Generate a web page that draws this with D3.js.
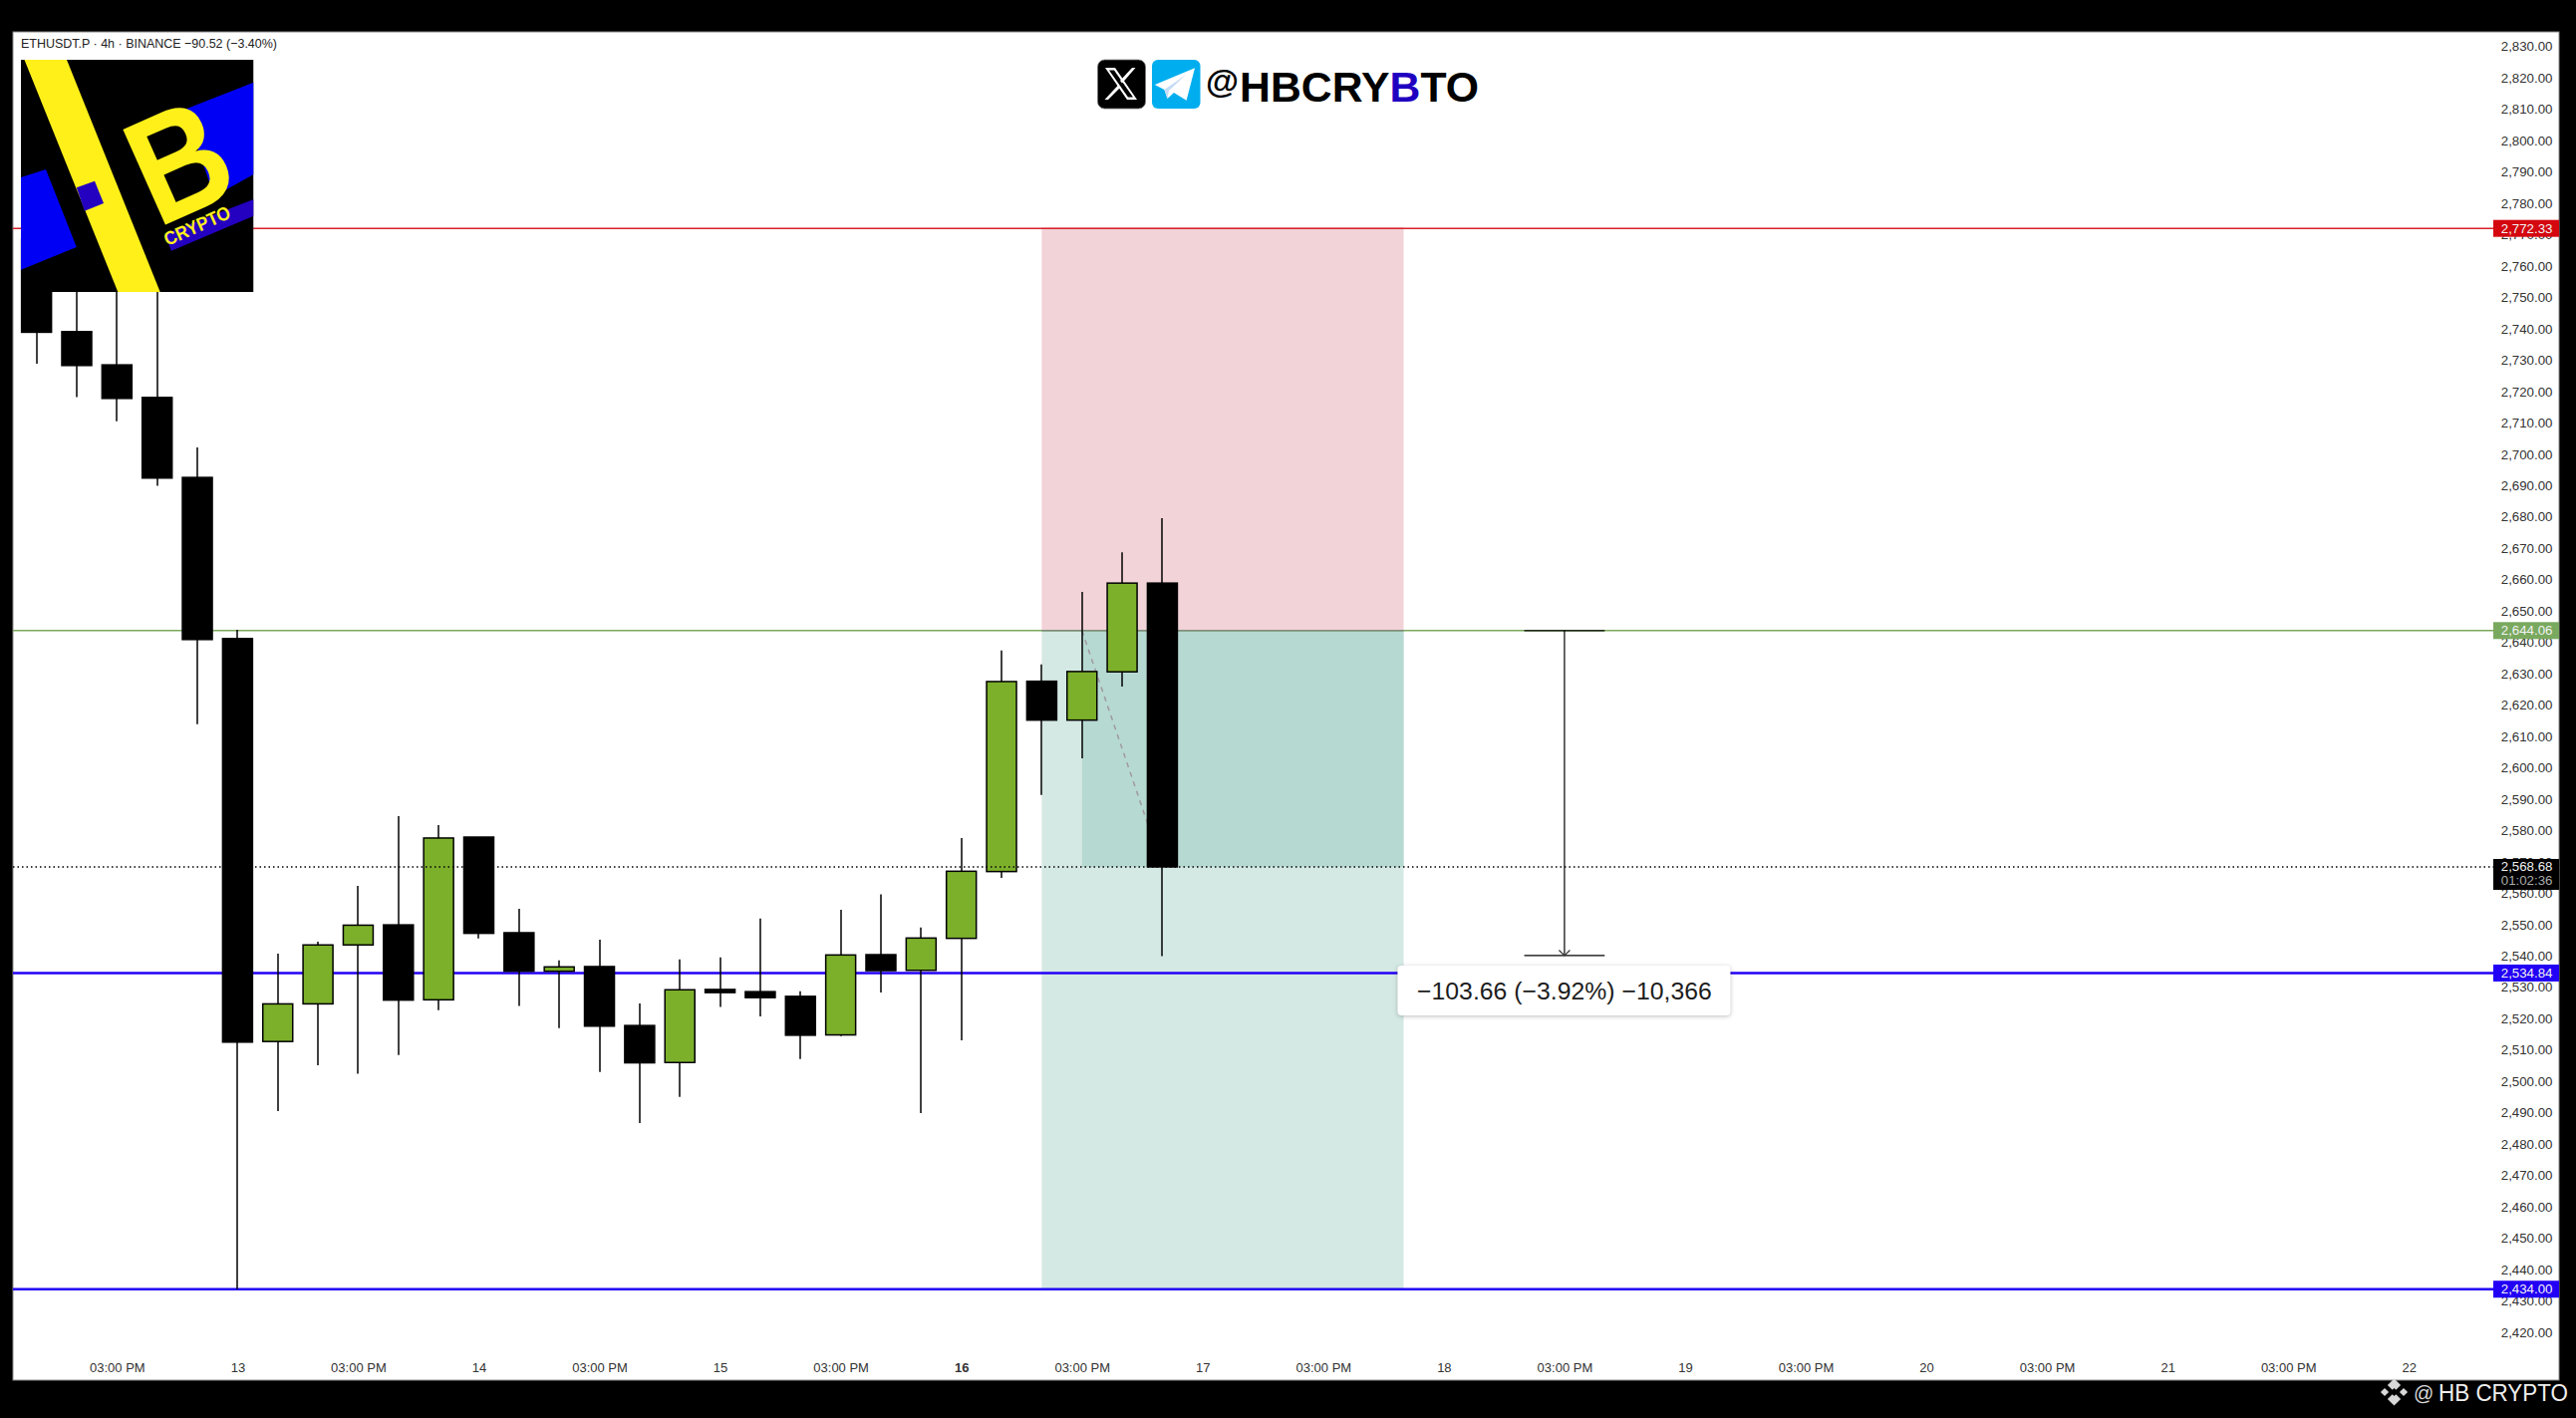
<!DOCTYPE html>
<html>
<head>
<meta charset="utf-8">
<script src="https://cdn.jsdelivr.net/npm/d3@7"></script>
<style>
  html, body { margin: 0; padding: 0; background: #000; overflow: hidden; }
  text { font-family: "Liberation Sans", Arial, sans-serif; }
</style>
</head>
<body>
<script>
// 4h candles, first one is bar -5 (bar 0 opens the 13th)
var firstBar = -5;
var opens  = [2768.9, 2739.4, 2728.8, 2718.4, 2692.9, 2641.5, 2513.0, 2525.0, 2543.8, 2550.2, 2526.3, 2578.2, 2547.7, 2535.4, 2536.9, 2518.1, 2506.3, 2529.6, 2528.9, 2527.4, 2515.1, 2540.7, 2535.7, 2545.9, 2567.2, 2627.9, 2615.5, 2630.9, 2659.2];
var highs  = [2770.5, 2759.4, 2757.8, 2756.2, 2702.5, 2644.3, 2541.0, 2544.8, 2562.6, 2584.9, 2582.0, 2578.2, 2555.3, 2538.9, 2545.5, 2525.1, 2539.2, 2539.8, 2552.2, 2529.0, 2555.0, 2559.9, 2549.4, 2577.9, 2637.7, 2633.3, 2656.4, 2669.0, 2679.9];
var lows   = [2729.2, 2718.5, 2710.8, 2690.2, 2614.2, 2434.0, 2490.8, 2505.4, 2502.7, 2508.7, 2523.0, 2545.9, 2524.3, 2517.3, 2503.3, 2487.0, 2495.3, 2524.0, 2521.0, 2507.4, 2514.7, 2528.6, 2490.2, 2513.4, 2565.2, 2591.6, 2603.3, 2626.2, 2540.2];
var closes = [2739.2, 2728.6, 2718.1, 2692.7, 2641.2, 2512.8, 2525.0, 2543.8, 2550.1, 2526.2, 2577.9, 2547.5, 2535.4, 2536.8, 2517.9, 2506.2, 2529.5, 2528.6, 2527.0, 2515.0, 2540.6, 2535.6, 2546.0, 2567.3, 2627.8, 2615.5, 2631.0, 2659.2, 2568.68];

var priceTicks = d3.range(2420, 2840, 10);
var timeLabels = ['03:00 PM', '13', '03:00 PM', '14', '03:00 PM', '15', '03:00 PM', '16', '03:00 PM', '17', '03:00 PM', '18', '03:00 PM', '19', '03:00 PM', '20', '03:00 PM', '21', '03:00 PM', '22'];
var timeBars   = [-3, 0, 3, 6, 9, 12, 15, 18, 21, 24, 27, 30, 33, 36, 39, 42, 45, 48, 51, 54];

var stopPrice = 2772.33, entryPrice = 2644.06, lastPrice = 2568.68, tp1Price = 2534.84, tp2Price = 2434.00;
var measureEnd = 2540.40;

var width = 2585, height = 1423;
var left = 13, top_ = 32, right = 2568, bottom = 1385, paneRight = 2502;
var GREEN = '#7cb02b', INK = '#333';

var x = d3.scaleLinear().domain([-5.586, 56.1]).range([left, paneRight]);
var y = d3.scaleLinear().domain([2405, 2835]).range([bottom, top_]);

var svg = d3.select('body').append('svg')
    .attr('width', width).attr('height', height)
    .style('display', 'block');

svg.append('rect').attr('width', width).attr('height', height).attr('fill', '#000');
svg.append('rect')
    .attr('x', left).attr('y', top_)
    .attr('width', right - left).attr('height', bottom - top_)
    .attr('fill', '#fff').attr('stroke', '#8a8a8a').attr('stroke-width', 1);

// position tool
function toolRect(b0, b1, p0, p1, fill) {
  svg.append('rect')
      .attr('x', x(b0)).attr('width', x(b1) - x(b0))
      .attr('y', y(p0)).attr('height', y(p1) - y(p0))
      .attr('fill', fill);
}
toolRect(20, 29, stopPrice + 0.3, entryPrice, '#f2d3d8');
toolRect(20, 29, entryPrice, tp2Price, '#d5e9e4');
toolRect(21, 29, entryPrice, lastPrice, '#b6d9d1');

function hline(price, color, w) {
  return svg.append('line')
      .attr('x1', left).attr('x2', paneRight)
      .attr('y1', y(price)).attr('y2', y(price))
      .attr('stroke', color).attr('stroke-width', w);
}
hline(stopPrice, '#d8202a', 1.5);
hline(entryPrice, '#7aa95c', 1.5);
hline(tp1Price, '#2200f5', 2.4);
hline(tp2Price, '#2200f5', 2.4);

svg.append('line')
    .attr('x1', x(20)).attr('x2', x(29))
    .attr('y1', y(entryPrice)).attr('y2', y(entryPrice))
    .attr('stroke', '#7f8c80').attr('stroke-width', 1.5);

svg.append('line')
    .attr('x1', x(21)).attr('y1', y(entryPrice))
    .attr('x2', x(23)).attr('y2', y(lastPrice))
    .attr('stroke', '#a09aa0').attr('stroke-width', 1.5)
    .attr('stroke-dasharray', '5,5');

// candles
var bars = d3.range(opens.length);
var candles = svg.append('g').selectAll('g').data(bars).enter().append('g');

candles.append('line')
    .attr('x1', function(i){ return Math.round(x(firstBar + i)); })
    .attr('x2', function(i){ return Math.round(x(firstBar + i)); })
    .attr('y1', function(i){ return y(highs[i]); })
    .attr('y2', function(i){ return y(lows[i]); })
    .attr('stroke', '#000').attr('stroke-width', 1.5);

candles.append('rect')
    .attr('x', function(i){ return x(firstBar + i) - 15; })
    .attr('width', 30)
    .attr('y', function(i){ return y(Math.max(opens[i], closes[i])); })
    .attr('height', function(i){ return Math.abs(y(opens[i]) - y(closes[i])); })
    .attr('fill', function(i){ return closes[i] > opens[i] ? GREEN : '#000'; })
    .attr('stroke', '#000').attr('stroke-width', 1.5);

// last price dotted line goes over the candles
hline(lastPrice, '#000', 1.5).attr('stroke-dasharray', '1.5,3');

// measure tool
var mx = x(33), my0 = y(entryPrice), my1 = y(measureEnd);
svg.append('line').attr('x1', x(32)).attr('x2', x(34)).attr('y1', my0).attr('y2', my0).attr('stroke', '#000').attr('stroke-width', 1.2);
svg.append('line').attr('x1', x(32)).attr('x2', x(34)).attr('y1', my1).attr('y2', my1).attr('stroke', '#000').attr('stroke-width', 1.2);
svg.append('line').attr('x1', mx).attr('x2', mx).attr('y1', my0).attr('y2', my1).attr('stroke', '#000').attr('stroke-width', 1.2);
svg.append('path')
    .attr('d', 'M' + (mx - 5.5) + ',' + (my1 - 5.5) + 'L' + mx + ',' + my1 + 'L' + (mx + 5.5) + ',' + (my1 - 5.5))
    .attr('fill', 'none').attr('stroke', '#333').attr('stroke-width', 1.2);

svg.append('rect')
    .attr('x', mx - 167.5).attr('y', my1 + 10)
    .attr('width', 334).attr('height', 50).attr('rx', 4)
    .attr('fill', '#fff')
    .style('filter', 'drop-shadow(0 1px 2px rgba(0,0,0,.25))');
svg.append('text')
    .attr('x', mx).attr('y', my1 + 44.5)
    .attr('text-anchor', 'middle')
    .attr('font-size', 24.8).attr('fill', '#1c1c1c')
    .text('\u2212103.66 (\u22123.92%) \u221210,366');

// axes
var yAxis = svg.append('g')
    .attr('transform', 'translate(2564.5,-1)')
    .call(d3.axisLeft(y).tickValues(priceTicks).tickFormat(d3.format(',.2f')).tickSize(0).tickPadding(3));
yAxis.select('.domain').remove();
yAxis.selectAll('text').attr('font-size', 13.3).attr('fill', INK).style('font-family', '"Liberation Sans"');

var xAxis = svg.append('g')
    .attr('transform', 'translate(0,1368)')
    .call(d3.axisBottom(x).tickValues(timeBars)
      .tickFormat(function(d){ return timeLabels[timeBars.indexOf(d)]; })
      .tickSize(0).tickPadding(0));
xAxis.select('.domain').remove();
xAxis.selectAll('text')
    .attr('font-size', 13).attr('fill', INK).style('font-family', '"Liberation Sans"')
    .attr('font-weight', function(d){ return d === 18 ? 'bold' : 'normal'; });

// price tags
function tag(price, color, label) {
  var yy = y(price);
  svg.append('rect').attr('x', paneRight).attr('y', yy - 8.5).attr('width', right - paneRight).attr('height', 17).attr('fill', color);
  svg.append('text').attr('x', 2561.5).attr('y', yy + 4.5).attr('text-anchor', 'end')
      .attr('font-size', 13.3).attr('fill', '#f2f2f2').text(label);
}
tag(stopPrice, '#d4070f', d3.format(',.2f')(stopPrice));
tag(entryPrice, '#79a95f', d3.format(',.2f')(entryPrice));
tag(tp1Price, '#2200f5', d3.format(',.2f')(tp1Price));
tag(tp2Price, '#2200f5', d3.format(',.2f')(tp2Price));

var ly = y(lastPrice);
svg.append('rect').attr('x', paneRight).attr('y', ly - 8).attr('width', right - paneRight).attr('height', 31).attr('fill', '#000');
svg.append('text').attr('x', 2561.5).attr('y', ly + 4.5).attr('text-anchor', 'end').attr('font-size', 13.3).attr('fill', '#eee').text(d3.format(',.2f')(lastPrice));
svg.append('text').attr('x', 2561.5).attr('y', ly + 18).attr('text-anchor', 'end').attr('font-size', 13.3).attr('fill', '#aaa').text('01:02:36');

// symbol line
svg.append('text')
    .attr('x', 21).attr('y', 48)
    .attr('font-size', 13).attr('fill', '#222')
    .attr('textLength', 257).attr('lengthAdjust', 'spacingAndGlyphs')
    .text('ETHUSDT.P \u00b7 4h \u00b7 BINANCE \u221290.52 (\u22123.40%)');

// logo
var logo = svg.append('g');
logo.append('clipPath').attr('id', 'logoClip').append('rect').attr('x', 21).attr('y', 60).attr('width', 233.5).attr('height', 233);
logo.attr('clip-path', 'url(#logoClip)');
logo.append('rect').attr('x', 21).attr('y', 60).attr('width', 233.5).attr('height', 233).attr('fill', '#000');
function poly(parent, pts, fill) {
  return parent.append('polygon').attr('points', pts).attr('fill', fill);
}
poly(logo, '21,178 46,170 76.8,248 21,270.7', '#0000f5');
poly(logo, '254.5,82.7 254.5,175 215,197 185,110', '#0000f5');
poly(logo, '24.5,60 67,60 160.7,293 118.3,293', '#fff01a');
poly(logo, '76.8,188.3 95,181.7 104,204 84.8,211.7', '#2400c0');
logo.append('text')
    .attr('transform', 'translate(158,229) rotate(-24) scale(0.86,1)')
    .attr('font-size', 152).attr('font-weight', 'bold').attr('fill', '#fff01a')
    .text('B');
poly(logo, '165,235 254.5,200 254.5,216.7 172,251.7', '#2400c0');
logo.append('text')
    .attr('transform', 'translate(168,247) rotate(-24)')
    .attr('font-size', 19).attr('font-weight', 'bold').attr('fill', '#fff01a')
    .attr('textLength', 71).attr('lengthAdjust', 'spacingAndGlyphs')
    .text('CRYPTO');

// header handle
var head = svg.append('g');
head.append('rect').attr('x', 1101.5).attr('y', 60).attr('width', 48).attr('height', 49).attr('rx', 7).attr('fill', '#000').attr('stroke', '#777').attr('stroke-width', 0.8);
poly(head, '1109,68 1119,68 1141,100 1131,100', '#fff');
poly(head, '1113,70.5 1118,70.5 1137,97.5 1132,97.5', '#000');
poly(head, '1136,68 1139.5,68 1126,83.5 1124,81', '#fff');
poly(head, '1122.5,85 1124.5,87.5 1112,100 1108.5,100', '#fff');
head.append('rect').attr('x', 1156).attr('y', 60).attr('width', 48.5).attr('height', 49).attr('rx', 6).attr('fill', '#00aeef');
poly(head, '1158.8,85 1199,68.3 1190.6,100.7 1178,93 1171.5,99 1168.4,90', '#fff');
poly(head, '1168.4,90 1171.5,99 1173,91 1190,75', '#c5dcf5');

svg.append('text')
    .attr('x', 1210).attr('y', 93)
    .attr('font-size', 33).attr('font-weight', 'bold').attr('fill', '#000')
    .attr('textLength', 33).attr('lengthAdjust', 'spacingAndGlyphs')
    .text('@');
var handle = svg.append('text')
    .attr('x', 1244).attr('y', 101.5)
    .attr('font-size', 43).attr('font-weight', 'bold').attr('fill', '#000')
    .attr('textLength', 240).attr('lengthAdjust', 'spacingAndGlyphs');
handle.append('tspan').text('HBCRY');
handle.append('tspan').attr('fill', '#1f00c0').text('B');
handle.append('tspan').text('TO');

// watermark
var wm = svg.append('g').attr('fill', '#d8d8d8');
[[2402.5, 1390, 6.5], [2402.5, 1404, 6.5], [2393, 1397, 4], [2412, 1397, 4], [2402.5, 1397, 4]].forEach(function(d){
  wm.append('rect')
      .attr('x', -d[2]).attr('y', -d[2]).attr('width', d[2] * 2).attr('height', d[2] * 2)
      .attr('transform', 'translate(' + d[0] + ',' + d[1] + ') rotate(45) scale(0.72)')
      .attr('fill', d[0] === 2402.5 && d[1] === 1397 ? '#000' : '#d8d8d8');
});
svg.append('text').attr('x', 2422).attr('y', 1405).attr('font-size', 20).attr('fill', '#d8d8d8').text('@');
svg.append('text').attr('x', 2447).attr('y', 1405.5).attr('font-size', 23.5).attr('fill', '#eee')
    .attr('textLength', 130).attr('lengthAdjust', 'spacingAndGlyphs').text('HB CRYPTO');
</script>
</body>
</html>
